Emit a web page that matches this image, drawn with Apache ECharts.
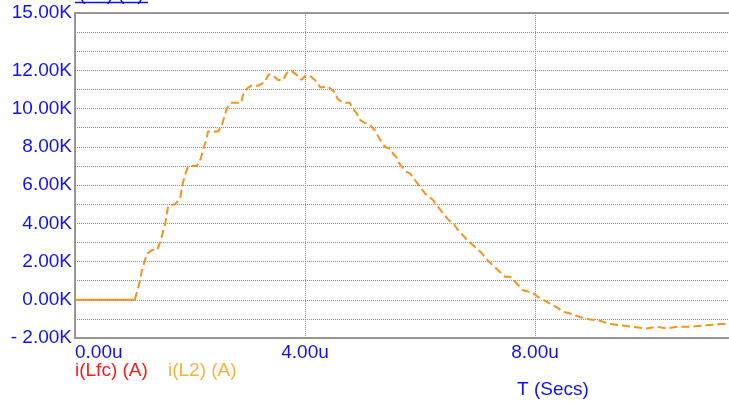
<!DOCTYPE html>
<html>
<head>
<meta charset="utf-8">
<script src="https://cdn.jsdelivr.net/npm/echarts@6/dist/echarts.min.js"></script>
<style>
  html, body { margin: 0; padding: 0; background: #fff; }
  #chart { width: 729px; height: 401px; }
</style>
</head>
<body>
<div id="chart"></div>
<script>
// Inductor current i(L2) in kA versus time in microseconds
const timeUs = [
  0, 1.04, 1.13, 1.16, 1.25, 1.34, 1.43, 1.49, 1.57, 1.62, 1.65, 1.74, 1.83, 1.86, 1.91, 1.97,
  2.12, 2.19, 2.23, 2.29, 2.31, 2.49, 2.55, 2.61, 2.64, 2.71, 2.89, 2.92, 2.99, 3.07, 3.18,
  3.25, 3.30, 3.37, 3.44, 3.53, 3.62, 3.68, 3.75, 3.86, 3.94, 4.00, 4.09, 4.17, 4.27, 4.40,
  4.52, 4.57, 4.66, 4.78, 4.83, 4.90, 4.96, 5.04, 5.13, 5.22, 5.27, 5.30, 5.39, 5.48, 5.53,
  5.59, 5.62, 5.76, 5.83, 6.09, 6.23, 6.38, 6.49, 6.59, 6.66, 6.83, 7.07, 7.18, 7.48, 7.57,
  7.62, 7.79, 7.86, 7.97, 8.05, 8.26, 8.38, 8.49, 8.61, 8.81, 8.96, 9.13, 9.16, 9.30, 9.68,
  9.94, 10.12, 10.29, 10.49, 10.70, 10.92, 11.22, 11.60
];
const iL2 = [
  0, 0, 1.0, 1.5, 2.4, 2.6, 2.6, 3.1, 4.0, 4.9, 5.0, 5.0, 5.3, 5.9, 6.5, 7.0,
  7.0, 7.4, 7.9, 8.4, 8.8, 8.8, 9.1, 9.7, 10.0, 10.3, 10.3, 10.7, 11.05, 11.2, 11.2,
  11.3, 11.4, 11.8, 11.75, 11.5, 11.5, 11.85, 12.0, 11.75, 11.5, 11.7, 11.7, 11.5, 11.1, 11.15,
  10.85, 10.5, 10.3, 10.3, 10.0, 9.75, 9.4, 9.25, 9.15, 8.85, 8.55, 8.4, 8.0, 7.9, 7.65,
  7.45, 7.2, 6.7, 6.6, 5.55, 5.2, 4.6, 4.2, 3.95, 3.65, 3.1, 2.45, 2.05, 1.2, 1.2,
  1.05, 0.5, 0.45, 0.35, 0.15, -0.2, -0.4, -0.63, -0.72, -0.93, -1.03, -1.1, -1.2, -1.27, -1.41,
  -1.5, -1.41, -1.5, -1.41, -1.41, -1.35, -1.27, -1.27
];
// Labelled current ticks (kA); the other grid rows stay unlabelled
const yTickLabels = [15, 12, 10, 8, 6, 4, 2, 0, -2];
const xTickLabels = [0, 4, 8];

const flatEnd = 2; // the pre-trigger baseline is drawn solid
const pts = timeUs.map((t, i) => [t, iL2[i]]);

const BLUE = '#1010ff';
const FONT = '"Liberation Sans", Arial, sans-serif';
const FS = 19;

const chart = echarts.init(document.getElementById('chart'), null, { renderer: 'canvas' });
chart.setOption({
  animation: false,
  backgroundColor: '#ffffff',
  grid: {
    left: 75, top: 13, height: 325, width: 690,
    outerBoundsMode: 'none', containLabel: false,
    show: true, borderColor: '#999999', borderWidth: 2, backgroundColor: 'transparent'
  },
  xAxis: {
    type: 'value', min: 0, max: 12, interval: 4,
    axisLine: { show: false }, axisTick: { show: false },
    splitLine: { show: true, lineStyle: { color: '#8c8c8c', width: 1, type: [1, 1] } },
    axisLabel: {
      color: BLUE, fontSize: FS, fontFamily: FONT, margin: 5, alignMinLabel: 'left',
      formatter: v => xTickLabels.includes(v) ? v.toFixed(2) + 'u' : ''
    }
  },
  yAxis: {
    type: 'value', min: -2, max: 15, interval: 1,
    axisLine: { show: false }, axisTick: { show: false },
    splitLine: { show: true, lineStyle: { color: '#8c8c8c', width: 1, type: [1, 1] } },
    axisLabel: {
      color: BLUE, fontSize: FS, fontFamily: FONT, margin: 3,
      formatter: v => {
        if (!yTickLabels.includes(v)) return '';
        return v < 0 ? '- ' + Math.abs(v).toFixed(2) + 'K' : v.toFixed(2) + 'K';
      }
    }
  },
  series: [
    {
      name: 'i(L2) baseline', type: 'line', showSymbol: false, silent: true,
      data: pts.slice(0, flatEnd),
      lineStyle: { color: '#f7931e', width: 2 }
    },
    {
      name: 'i(L2) (A)', type: 'line', showSymbol: false, silent: true,
      data: pts.slice(flatEnd - 1),
      lineStyle: { color: '#f7931e', width: 2, type: [8, 4] }
    }
  ],
  graphic: [
    { type: 'text', left: 75, top: -15,
      style: { text: 'i(L2) (A)', fill: BLUE, font: FS + 'px ' + FONT } },
    { type: 'line', shape: { x1: 75, y1: 2.5, x2: 148, y2: 2.5 },
      style: { stroke: BLUE, lineWidth: 1.5 } },
    { type: 'text', left: 75, top: 361,
      style: { text: 'i(Lfc) (A)', fill: '#ff1a1a', font: FS + 'px ' + FONT } },
    { type: 'text', left: 168, top: 361,
      style: { text: 'i(L2) (A)', fill: '#fbb040', font: FS + 'px ' + FONT } },
    { type: 'text', left: 517, top: 380,
      style: { text: 'T (Secs)', fill: BLUE, font: FS + 'px ' + FONT } }
  ]
});
</script>
</body>
</html>
